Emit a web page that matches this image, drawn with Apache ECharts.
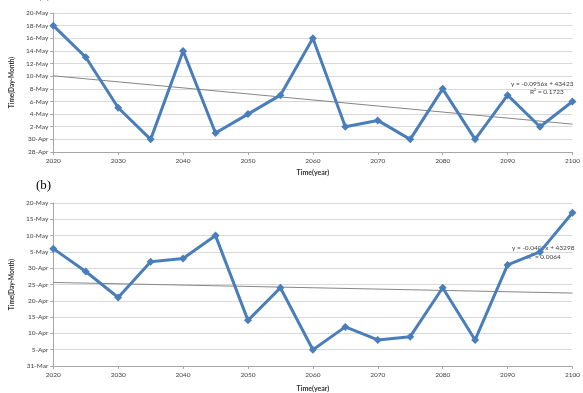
<!DOCTYPE html>
<html>
<head>
<meta charset="utf-8">
<script src="https://cdn.jsdelivr.net/npm/echarts@6/dist/echarts.min.js"></script>
<style>
  html, body { margin: 0; padding: 0; background: #fff; }
  #chart { width: 583px; height: 393px; }
</style>
</head>
<body>
<div id="chart"></div>
<script>
// years on the x axis
const years = [2020, 2025, 2030, 2035, 2040, 2045, 2050, 2055, 2060, 2065, 2070, 2075, 2080, 2085, 2090, 2095, 2100];

// (a) days counted from 28-Apr
const valuesA = [20, 15, 7, 2, 16, 3, 6, 9, 18, 4, 5, 2, 10, 2, 9, 4, 8];
const tickLabelsA = ['28-Apr', '30-Apr', '2-May', '4-May', '6-May', '8-May', '10-May', '12-May', '14-May', '16-May', '18-May', '20-May'];
const trendA = [12.06, 4.41]; // at 2020 and 2100

// (b) days counted from 31-Mar
const valuesB = [36, 29, 21, 32, 33, 40, 14, 24, 5, 12, 8, 9, 24, 8, 31, 35, 47];
const tickLabelsB = ['31-Mar', '5-Apr', '10-Apr', '15-Apr', '20-Apr', '25-Apr', '30-Apr', '5-May', '10-May', '15-May', '20-May'];
const trendB = [25.63, 22.37];

const eqA = ['y = -0.0956x + 43423', 'R\u00b2 = 0.1723'];
const eqB = ['y = -0.0407x + 43298', 'R\u00b2 = 0.0064'];

const FONT = 'Lato';
const labelColor = '#404040';
const lineBlue = '#4a7ebb';

function xAxisFor(gridIndex, gap) {
  return {
    type: 'value', gridIndex, min: 2020, max: 2100, interval: 10,
    name: 'Time(year)', nameLocation: 'middle', nameGap: gap,
    nameTextStyle: { fontFamily: FONT, fontSize: 7, fontWeight: 'bold', color: '#333' },
    axisLine: { show: true, onZero: false, lineStyle: { color: '#a6a6a6' } },
    axisTick: { show: true, length: 3, lineStyle: { color: '#a6a6a6' } },
    axisLabel: { fontFamily: FONT, fontSize: 6.5, color: labelColor, margin: 5, formatter: v => String(v) },
    splitLine: { show: false }
  };
}

function yAxisFor(gridIndex, max, interval, labels) {
  return {
    type: 'value', gridIndex, min: 0, max, interval,
    name: 'Time(Day-Month)', nameLocation: 'middle', nameGap: 30,
    nameTextStyle: { fontFamily: FONT, fontSize: 6.5, fontWeight: 'bold', color: '#333' },
    axisLine: { show: true, lineStyle: { color: '#a6a6a6' } },
    axisTick: { show: true, length: 3, lineStyle: { color: '#a6a6a6' } },
    axisLabel: {
      fontFamily: FONT, fontSize: 6.5, color: labelColor, margin: 5,
      formatter: v => labels[Math.round(v / interval)]
    },
    splitLine: { show: true, lineStyle: { color: '#d9d9d9', width: 1 } }
  };
}

function dataSeries(idx, values) {
  return {
    type: 'line', xAxisIndex: idx, yAxisIndex: idx,
    data: years.map((y, i) => [y, values[i]]),
    symbol: 'diamond', symbolSize: 8,
    itemStyle: { color: lineBlue },
    lineStyle: { color: lineBlue, width: 3 },
    z: 3
  };
}

function trendSeries(idx, ends) {
  return {
    type: 'line', xAxisIndex: idx, yAxisIndex: idx,
    data: [[years[0], ends[0]], [years[years.length - 1], ends[1]]],
    symbol: 'none', silent: true,
    lineStyle: { color: '#868686', width: 1 },
    z: 2
  };
}

const chart = echarts.init(document.getElementById('chart'), null, { renderer: 'canvas' });

chart.setOption({
  animation: false,
  backgroundColor: '#fff',
  grid: [
    { left: 37, right: 10, top: 13, height: 139 },
    { left: 37, right: 10, top: 203, height: 169 }
  ],
  xAxis: [xAxisFor(0, 17), xAxisFor(1, 19)],
  yAxis: [yAxisFor(0, 22, 2, tickLabelsA), yAxisFor(1, 50, 5, tickLabelsB)],
  series: [
    trendSeries(0, trendA), dataSeries(0, valuesA),
    trendSeries(1, trendB), dataSeries(1, valuesB)
  ],
  graphic: [
    { type: 'text', left: 37, top: -12, style: { text: '(a)', font: '13px "Liberation Serif"', fill: '#000' } },
    { type: 'text', left: 36, top: 179, style: { text: '(b)', font: '13px "Liberation Serif"', fill: '#000' } },
    { type: 'text', left: 511, top: 80, style: { text: eqA[0], font: '6.5px Lato', fill: '#404040' } },
    { type: 'text', left: 530, top: 88, style: { text: eqA[1], font: '6.5px Lato', fill: '#404040' } },
    { type: 'text', left: 512, top: 244, style: { text: eqB[0], font: '6.5px Lato', fill: '#404040' } },
    { type: 'text', left: 527, top: 253, style: { text: eqB[1], font: '6.5px Lato', fill: '#404040' } }
  ]
});
</script>
</body>
</html>
